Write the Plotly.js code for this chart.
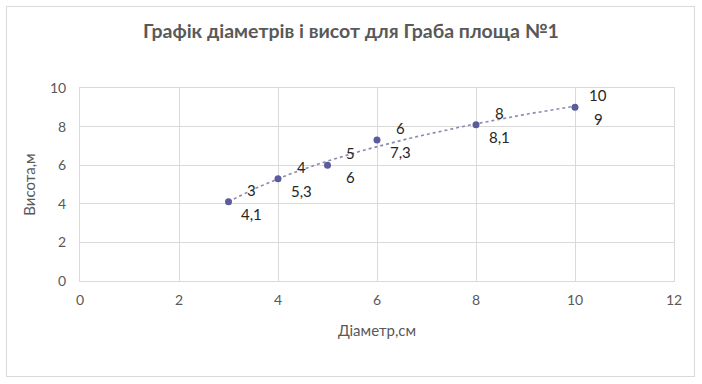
<!DOCTYPE html>
<html>
<head>
<meta charset="utf-8">
<script src="https://cdn.plot.ly/plotly-3.0.1.min.js"></script>
<style>
html,body{margin:0;padding:0;background:#fff;}
#frame{position:absolute;left:6px;top:6px;width:689px;height:371px;border:1px solid #d9d9d9;box-sizing:border-box;}
#chart{position:absolute;left:0;top:0;width:702px;height:384px;}
</style>
</head>
<body>
<div id="frame"></div>
<div id="chart"></div>
<script>
const diameters = [3, 4, 5, 6, 8, 10];
const heights = [4.1, 5.3, 6, 7.3, 8.1, 9];
const xLabels = ["3", "4", "5", "6", "8", "10"];
const yLabels = ["4,1", "5,3", "6", "7,3", "8,1", "9"];
const xTicks = [0, 2, 4, 6, 8, 10, 12];
const yTicks = [0, 2, 4, 6, 8, 10];

// logarithmic trendline fitted from the data (least squares on ln x)
const lnx = diameters.map(Math.log);
const n = diameters.length;
const mx = lnx.reduce((a, b) => a + b, 0) / n;
const my = heights.reduce((a, b) => a + b, 0) / n;
let sxy = 0, sxx = 0;
for (let i = 0; i < n; i++) { sxy += (lnx[i] - mx) * (heights[i] - my); sxx += (lnx[i] - mx) ** 2; }
const slope = sxy / sxx, icpt = my - slope * mx;
const tx = [], ty = [];
const x0 = Math.min(...diameters), x1 = Math.max(...diameters);
for (let k = 0; k <= 60; k++) { const x = x0 + (x1 - x0) * k / 60; tx.push(x); ty.push(slope * Math.log(x) + icpt); }

const font = "Lato, 'Open Sans', sans-serif";
const grey = "#595959";

const traces = [
  {x: tx, y: ty, mode: "lines", line: {color: "#8a8ab0", width: 1.6, dash: "dot"}, hoverinfo: "skip"},
  {x: diameters, y: heights, mode: "markers", marker: {color: "#5b5b9d", size: 7}}
];

const annotations = [];
for (let i = 0; i < n; i++) {
  annotations.push({x: diameters[i], y: heights[i], text: xLabels[i], showarrow: false, xshift: 23, yshift: 12,
    font: {family: font, size: 15, color: "#262626"}});
  annotations.push({x: diameters[i], y: heights[i], text: yLabels[i], showarrow: false, xshift: 23, yshift: -12,
    font: {family: font, size: 15, color: "#262626"}});
}

const layout = {
  width: 702, height: 384,
  paper_bgcolor: "rgba(0,0,0,0)", plot_bgcolor: "rgba(0,0,0,0)",
  margin: {l: 80, r: 28, t: 88, b: 103},
  showlegend: false,
  title: {text: "<b>Графік діаметрів і висот для Граба площа №1</b>", x: 0.5, xanchor: "center", y: 0.92, yanchor: "middle",
    font: {family: font, size: 19.5, color: grey}},
  xaxis: {range: [0, 12], tickvals: xTicks, ticktext: xTicks.map(String), showgrid: true, gridcolor: "#d9d9d9", gridwidth: 1,
    zeroline: false, showline: true, linecolor: "#d9d9d9", ticks: "", ticklen: 0, ticklabelstandoff: 6,
    tickfont: {family: font, size: 14, color: grey},
    title: {text: "Діаметр,см", font: {family: font, size: 15, color: grey}, standoff: 18}},
  yaxis: {range: [0, 10], tickvals: yTicks, ticktext: yTicks.map(String), showgrid: true, gridcolor: "#d9d9d9", gridwidth: 1,
    zeroline: false, showline: true, linecolor: "#d9d9d9", ticks: "", ticklen: 0, ticklabelstandoff: 10,
    tickfont: {family: font, size: 14, color: grey},
    title: {text: "Висота,м", font: {family: font, size: 15, color: grey}, standoff: 10}},
  annotations: annotations
};
layout.xaxis.mirror = true; layout.yaxis.mirror = true;

Plotly.newPlot("chart", traces, layout, {displayModeBar: false, staticPlot: true});
</script>
</body>
</html>
